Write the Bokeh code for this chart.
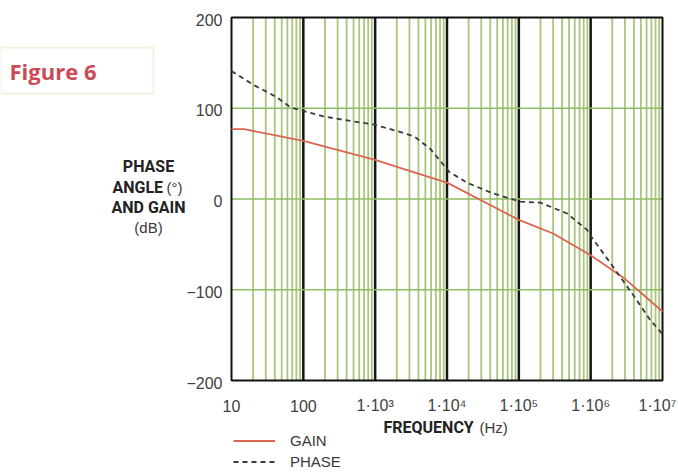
from bokeh.plotting import figure
from bokeh.models import Label, BoxAnnotation, Legend, LegendItem, Range1d
from bokeh.core.properties import value
from bokeh.embed import file_html
from bokeh.resources import INLINE

# ---- data ----
gain_freq = [10, 15, 100, 1e3, 3e3, 1e4, 1e5, 3e5, 1e6, 3e6, 1e7]
gain_db = [77, 77, 64, 43, 31, 18, -23, -38, -62, -88, -124]

phase_freq = [10, 20, 43, 66, 100, 190, 450, 960, 2000, 3500, 5900, 1.07e4, 1.9e4,
              4.1e4, 1.05e5, 2e5, 4.7e5, 8.9e5, 1.05e6, 1.9e6, 4e6, 6.7e6, 1e7]
phase_deg = [141, 126, 112, 101, 97, 91, 86, 82, 75, 69, 55, 30, 18,
             7, -3, -4, -16, -34, -43, -71, -107, -133, -149]

x_ticks = [10, 100, 1e3, 1e4, 1e5, 1e6, 1e7]
x_tick_labels = ["10", "100", "1\u00b710\u00b3", "1\u00b710\u2074", "1\u00b710\u2075",
                 "1\u00b710\u2076", "1\u00b710\u2077"]
y_ticks = [-200, -100, 0, 100, 200]
y_tick_labels = ["\u2212200", "\u2212100", "0", "100", "200"]

# ---- layout constants (pixel geometry of the plot area) ----
W, H = 678, 472
FL, FR, FT, FB = 231, 662, 17, 380
DEC = (FR - FL) / 6.0

def X(px):
    return 10 ** (1 + (px - FL) / DEC)

def Y(py):
    return 200 - (py - FT) * 400.0 / (FB - FT)

p = figure(width=W, height=H, x_axis_type="log", output_backend="svg",
           toolbar_location=None, x_axis_location=None, y_axis_location=None,
           x_range=Range1d(X(0), X(W)), y_range=Range1d(Y(H), Y(0)),
           min_border=0)
p.grid.visible = False
p.outline_line_color = None
p.background_fill_color = "white"
p.border_fill_color = "white"

xmin, xmax = x_ticks[0], x_ticks[-1]
ymin, ymax = y_ticks[0], y_ticks[-1]

# grid: minor verticals (2..9 per decade), decade lines, horizontal lines
minor = [m * t for t in x_ticks[:-1] for m in range(2, 10)]
p.segment(x0=minor, x1=minor, y0=[ymin] * len(minor), y1=[ymax] * len(minor),
          line_color="#a9c67e", line_width=1.8)
p.segment(x0=x_ticks[1:-1], x1=x_ticks[1:-1], y0=[ymin] * 5, y1=[ymax] * 5,
          line_color="#151515", line_width=2.5)
p.segment(x0=[xmin] * 3, x1=[xmax] * 3, y0=y_ticks[1:-1], y1=y_ticks[1:-1],
          line_color="#8fbd63", line_width=1.6)
p.quad(left=[xmin], right=[xmax], bottom=[ymin], top=[ymax], fill_color=None,
       line_color="#111111", line_width=2)

# tick labels
x_shift = [0, 0, 0, 0, 0, 0, -5]
p.text(x=x_ticks, y=[ymin] * len(x_ticks), text=x_tick_labels, y_offset=25,
       x_offset=x_shift,
       text_align="center", text_baseline="middle", text_font=value("Liberation Sans"),
       text_font_size="16px", text_color="#404040")
p.text(x=[xmin] * len(y_ticks), y=y_ticks, text=y_tick_labels, x_offset=-9, y_offset=2,
       text_align="right", text_baseline="middle", text_font=value("Liberation Sans"),
       text_font_size="16px", text_color="#404040")

# data
r_gain = p.line(gain_freq, gain_db, line_color="#dc6650", line_width=1.8)
r_phase = p.line(phase_freq, phase_deg, line_color="#3a3a3a", line_width=1.8,
                 line_dash="5 4")

legend = Legend(items=[LegendItem(label="GAIN", renderers=[r_gain]),
                       LegendItem(label="PHASE", renderers=[r_phase])],
                location=(233, 0), margin=0, padding=0, spacing=0,
                glyph_width=42, glyph_height=21, label_height=21, label_standoff=15,
                border_line_color=None, background_fill_alpha=0,
                label_text_font="Liberation Sans", label_text_font_size="15px",
                label_text_color="#3a3a3a")
p.add_layout(legend, "center")

# Figure 6 tag
p.add_layout(BoxAnnotation(left=X(0), right=X(153), top=Y(47), bottom=Y(93),
                           fill_color="white", fill_alpha=1,
                           line_color="#dcd592", line_width=2))
p.add_layout(Label(x=X(9), y=Y(70), text="Figure 6", text_font="Open Sans",
                   text_font_style="bold", text_font_size="22px", text_color="#c94c55",
                   text_baseline="middle", text_align="left"))

def lab(px, py, text, bold=True, size="15px", align="center", font="Roboto",
        color="#222222"):
    p.add_layout(Label(x=X(px), y=Y(py), text=text, text_font=font,
                       text_font_style="bold" if bold else "normal",
                       text_font_size=size, text_color=color,
                       text_baseline="middle", text_align=align))

# y-axis title
lab(148, 166, "PHASE", size="16px")
lab(112, 187, "ANGLE", align="left", size="16px")
lab(166, 187, "(\u00b0)", bold=False, align="left", font="Liberation Sans", size="15px",
    color="#3a3a3a")
lab(148, 207, "AND GAIN", size="16px")
lab(148, 227, "(dB)", bold=False, font="Liberation Sans", size="15px", color="#3a3a3a")

# x-axis title
lab(383, 427, "FREQUENCY", align="left", size="16px")
lab(479, 427, "(Hz)", bold=False, align="left", font="Liberation Sans", size="15px",
    color="#3a3a3a")

open("out.html", "w").write(file_html(p, INLINE))
